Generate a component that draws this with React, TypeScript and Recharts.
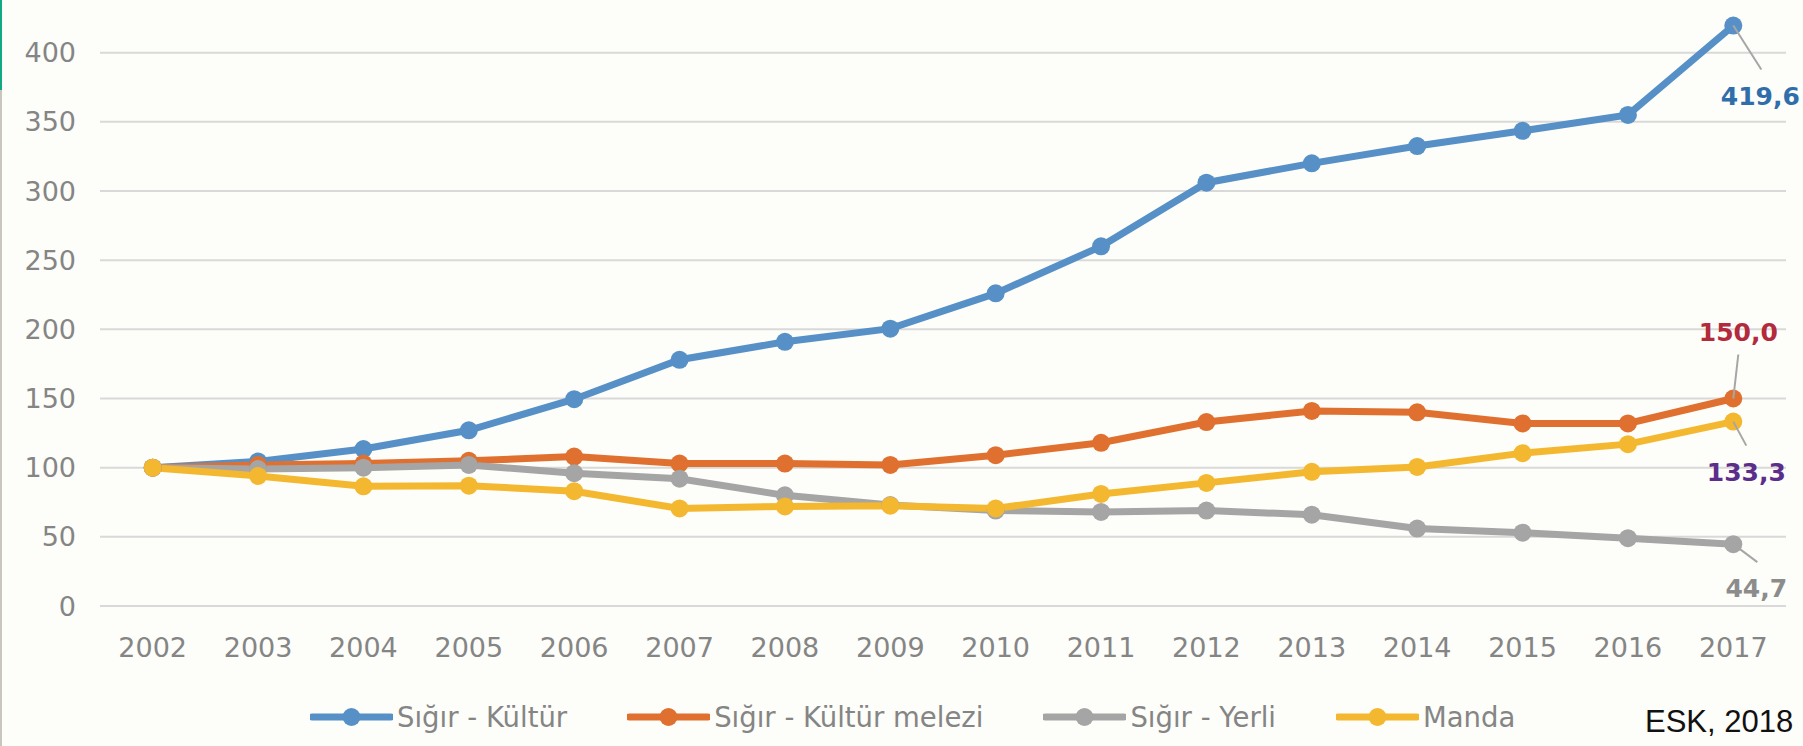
import { LineChart, Line, XAxis, YAxis, CartesianGrid, LabelList } from "recharts";

const years = ["2002", "2003", "2004", "2005", "2006", "2007", "2008", "2009", "2010", "2011", "2012", "2013", "2014", "2015", "2016", "2017"];
const kultur = [100, 104.5, 113.5, 127, 149.5, 178, 191, 200.5, 226, 260, 306, 320, 332.5, 343.5, 355, 419.6];
const melez = [100, 102, 103, 105, 108, 103, 103, 102, 109, 118, 133, 141, 140, 132, 132, 150.0];
const yerli = [100, 99, 100, 102, 96, 92, 80, 73, 69, 68, 69, 66, 56, 53, 49, 44.7];
const manda = [100, 94, 86.5, 87, 83, 70.5, 72, 72.5, 70.5, 81, 89, 97, 100.5, 110.5, 117, 133.3];
const yTicks = [0, 50, 100, 150, 200, 250, 300, 350, 400];

const data = years.map((year, i) => ({
  year,
  kultur: kultur[i],
  melez: melez[i],
  yerli: yerli[i],
  manda: manda[i],
}));

// series styling + where the end-value label sits relative to the last point
const SERIES = [
  { key: "kultur", name: "Sığır - Kültür", color: "#5690c6", labelColor: "#2f6eab", lead: [28, 44], text: [27, 71] },
  { key: "melez", name: "Sığır - Kültür melezi", color: "#e0702f", labelColor: "#b22a3c", lead: [5, -44], text: [5, -66] },
  { key: "yerli", name: "Sığır - Yerli", color: "#a5a5a5", labelColor: "#8c8c8c", lead: [24, 18], text: [23, 44] },
  { key: "manda", name: "Manda", color: "#f3b82f", labelColor: "#5b2e8c", lead: [13, 24], text: [13, 51] },
];

const tickStyle = { fill: "#858585", fontSize: 27, fontFamily: "'DejaVu Sans', sans-serif" };

const makeEndLabel = (s: (typeof SERIES)[number]) => (props: any) => {
  const { x, y, index, value } = props;
  if (index !== years.length - 1) return null;
  return (
    <g>
      <line x1={x} y1={y} x2={x + s.lead[0]} y2={y + s.lead[1]} stroke="#a6a6a6" strokeWidth={2} />
      <text
        x={x + s.text[0]}
        y={y + s.text[1]}
        textAnchor="middle"
        dominantBaseline="central"
        fill={s.labelColor}
        fontSize={25}
        fontWeight="bold"
        fontFamily="'DejaVu Sans', sans-serif"
      >
        {Number(value).toFixed(1).replace(".", ",")}
      </text>
    </g>
  );
};

const App = () => {
  return (
    <div
      style={{
        position: "absolute",
        left: 0,
        top: 0,
        width: 1803,
        height: 746,
        background: "#fdfdf9",
        overflow: "hidden",
        fontFamily: "'DejaVu Sans', sans-serif",
      }}
    >
      <div style={{ position: "absolute", left: 0, top: 0, width: 2, height: 90, background: "#14a985" }} />
      <div style={{ position: "absolute", left: 0, top: 90, width: 2, height: 656, background: "#c9c6bd" }} />
      <LineChart width={1803} height={746} data={data} margin={{ top: 25, right: 17, left: 0, bottom: 80 }}>
        <CartesianGrid vertical={false} horizontalValues={yTicks} stroke="#d9d9d9" strokeWidth={2} />
        <XAxis
          dataKey="year"
          axisLine={false}
          tickLine={false}
          tickSize={0}
          tickMargin={32}
          interval={0}
          height={60}
          padding={{ left: 52.7, right: 52.7 }}
          tick={tickStyle}
        />
        <YAxis
          domain={[0, 420]}
          ticks={yTicks}
          axisLine={false}
          tickLine={false}
          tickSize={0}
          tickMargin={24}
          width={100}
          tick={tickStyle}
        />
        {SERIES.map((s) => (
          <Line
            key={s.key}
            type="linear"
            dataKey={s.key}
            name={s.name}
            stroke={s.color}
            strokeWidth={7}
            dot={{ r: 9, fill: s.color, stroke: s.color, strokeWidth: 0 }}
            isAnimationActive={false}
          >
            <LabelList dataKey={s.key} content={makeEndLabel(s)} />
          </Line>
        ))}
      </LineChart>

      {/* legend */}
      <div
        style={{
          position: "absolute",
          left: 310,
          top: 699,
          height: 36,
          display: "flex",
          alignItems: "center",
          gap: 60,
          fontSize: 27.5,
          color: "#858585",
        }}
      >
        {SERIES.map((s) => (
          <div key={s.key} style={{ display: "flex", alignItems: "center" }}>
            <svg width={83} height={22} style={{ marginRight: 4 }}>
              <line x1={2} y1={11} x2={81} y2={11} stroke={s.color} strokeWidth={7} strokeLinecap="round" />
              <circle cx={41.5} cy={11} r={9} fill={s.color} />
            </svg>
            <span style={{ whiteSpace: "nowrap" }}>{s.name}</span>
          </div>
        ))}
      </div>

      <div
        style={{
          position: "absolute",
          left: 1645,
          top: 704,
          fontSize: 31,
          fontFamily: "'Liberation Sans', sans-serif",
          color: "#111",
          whiteSpace: "nowrap",
        }}
      >
        ESK, 2018
      </div>
    </div>
  );
};

export default App;
